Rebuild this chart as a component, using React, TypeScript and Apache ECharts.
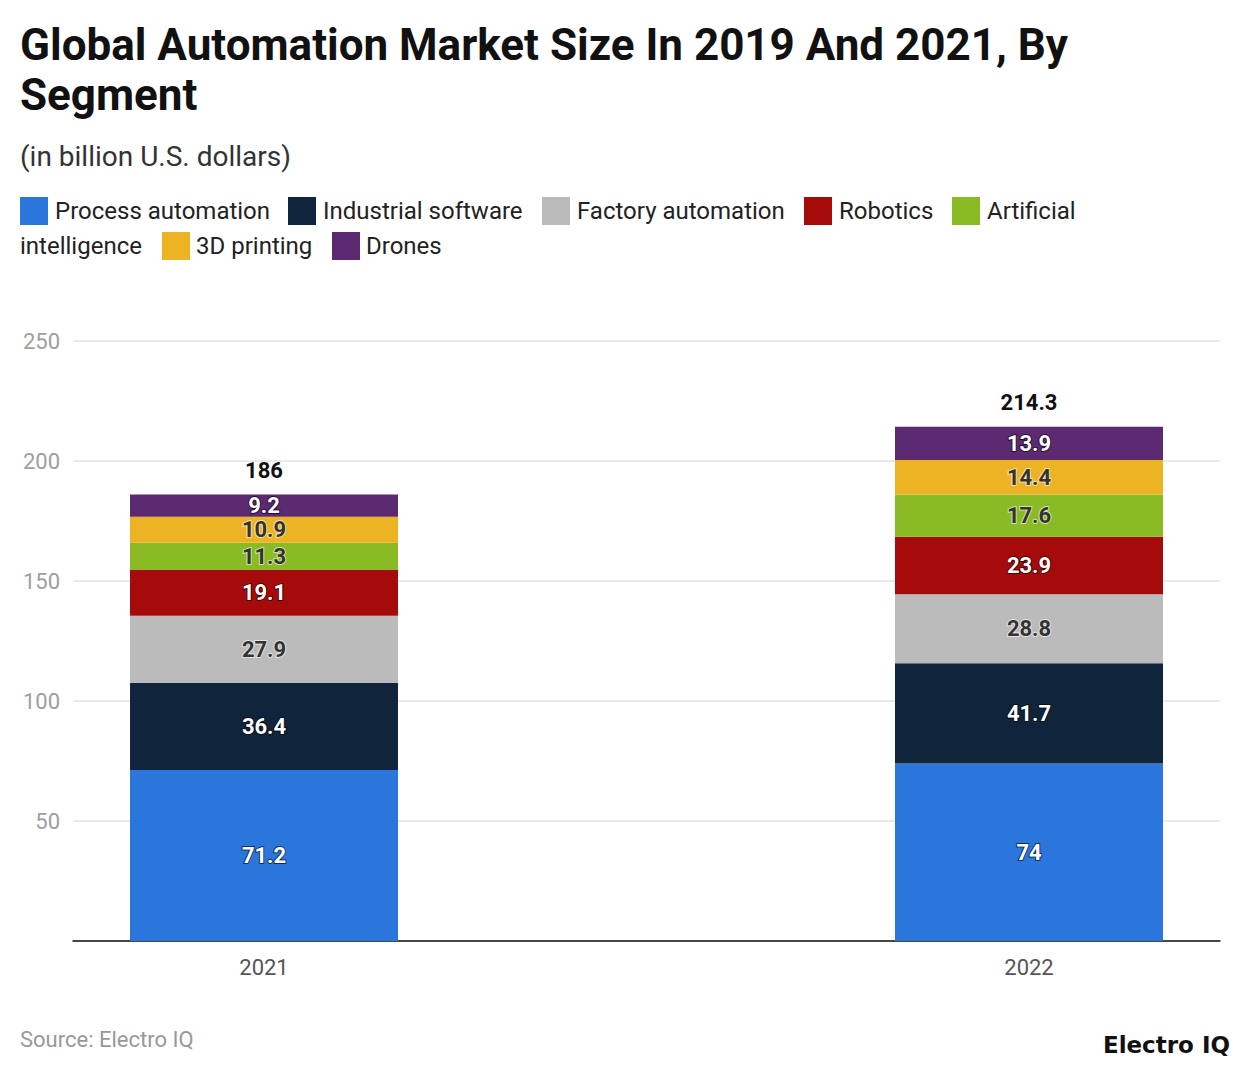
import { useEffect, useRef } from 'react';
import * as echarts from 'echarts';

const years = ['2021', '2022'];
const segments = [
  'Process automation',
  'Industrial software',
  'Factory automation',
  'Robotics',
  'Artificial intelligence',
  '3D printing',
  'Drones',
];
const colors = ['#2a76dd', '#10243b', '#bbbbbb', '#a50b0b', '#8abb24', '#ecb424', '#5b2a71'];
const processAutomation = [71.2, 74];
const industrialSoftware = [36.4, 41.7];
const factoryAutomation = [27.9, 28.8];
const robotics = [19.1, 23.9];
const artificialIntelligence = [11.3, 17.6];
const printing3d = [10.9, 14.4];
const drones = [9.2, 13.9];
const yTicks = [0, 50, 100, 150, 200, 250];

const seriesValues = [
  processAutomation,
  industrialSoftware,
  factoryAutomation,
  robotics,
  artificialIntelligence,
  printing3d,
  drones,
];
// light bars get dark text
const darkText = [false, false, true, false, true, true, false];

// legend layout (wraps like text flow in the original)
const legendItems = [
  { box: [20, 197], text: [55, 211], label: 'Process automation', idx: 0 },
  { box: [288, 197], text: [323, 211], label: 'Industrial software', idx: 1 },
  { box: [542, 197], text: [577, 211], label: 'Factory automation', idx: 2 },
  { box: [804, 197], text: [839, 211], label: 'Robotics', idx: 3 },
  { box: [952, 197], text: [987, 211], label: 'Artificial', idx: 4 },
  { box: null, text: [20, 246], label: 'intelligence', idx: 4 },
  { box: [162, 232], text: [196, 246], label: '3D printing', idx: 5 },
  { box: [332, 232], text: [366, 246], label: 'Drones', idx: 6 },
];

export default function App() {
  const chartRef = useRef(null);

  useEffect(() => {
    const chart = echarts.init(chartRef.current, null, { renderer: 'svg' });
    const totals = years.map((_, i) =>
      Math.round(seriesValues.reduce((s, arr) => s + arr[i], 0) * 10) / 10
    );
    const font = 'Roboto, sans-serif';

    const legendGraphics: any[] = [];
    legendItems.forEach((it) => {
      if (it.box) {
        legendGraphics.push({
          type: 'rect',
          shape: { x: it.box[0], y: it.box[1], width: 28, height: 28 },
          style: { fill: colors[it.idx] },
        });
      }
      legendGraphics.push({
        type: 'text',
        x: it.text[0],
        y: it.text[1],
        style: {
          text: it.label,
          fill: '#222',
          font: `24px ${font}`,
          textVerticalAlign: 'middle',
        },
      });
    });

    const barSeries = segments.map((name, i) => ({
      name,
      type: 'bar',
      stack: 'total',
      xAxisIndex: 1,
      yAxisIndex: 1,
      barWidth: 268,
      clip: false,
      itemStyle: { color: colors[i] },
      label: {
        show: true,
        position: 'inside',
        fontFamily: font,
        fontSize: 22,
        fontWeight: 'bold',
        color: darkText[i] ? '#333' : '#fff',
        textBorderColor: darkText[i] ? 'rgba(255,255,255,0.6)' : 'rgba(0,0,0,0.6)',
        textBorderWidth: 2,
      },
      data: seriesValues[i],
    }));

    const option = {
      animation: false,
      backgroundColor: '#fff',
      title: [
        {
          text: 'Global Automation Market Size In 2019 And 2021, By\nSegment',
          left: 20,
          top: 20,
          padding: 0,
          textStyle: {
            fontFamily: font,
            fontSize: 44,
            fontWeight: 'bold',
            color: '#111',
            lineHeight: 50,
          },
        },
        {
          text: '(in billion U.S. dollars)',
          left: 20,
          top: 142,
          padding: 0,
          textStyle: { fontFamily: font, fontSize: 28, fontWeight: 'normal', color: '#333' },
        },
      ],
      graphic: [
        ...legendGraphics,
        {
          type: 'text',
          left: 20,
          top: 1028,
          style: { text: 'Source: Electro IQ', fill: '#999', font: `22px ${font}` },
        },
        {
          type: 'text',
          right: 10,
          top: 1033,
          style: {
            text: 'Electro IQ',
            fill: '#111',
            font: `bold 23px "DejaVu Sans", ${font}`,
          },
        },
      ],
      grid: [
        { left: 73, right: 20, top: 341, bottom: 133 },
        { left: 264, right: 211, top: 341, bottom: 133 },
      ],
      xAxis: [
        {
          type: 'category',
          gridIndex: 0,
          data: years,
          axisLine: { lineStyle: { color: '#111', width: 1.5 } },
          axisTick: { show: false },
          axisLabel: { show: false },
        },
        {
          type: 'category',
          gridIndex: 1,
          data: years,
          boundaryGap: false,
          axisLine: { show: false },
          axisTick: { show: false },
          axisLabel: { fontFamily: font, fontSize: 22, color: '#555', margin: 15 },
        },
      ],
      yAxis: [
        {
          type: 'value',
          gridIndex: 0,
          min: yTicks[0],
          max: yTicks[yTicks.length - 1],
          interval: yTicks[1] - yTicks[0],
          axisLine: { show: false },
          axisTick: { show: false },
          axisLabel: {
            fontFamily: font,
            fontSize: 22,
            color: '#9e9e9e',
            margin: 13,
            formatter: (v: number) => (v === 0 ? '' : String(v)),
          },
          splitLine: { lineStyle: { color: '#e3e3e3', width: 1.5 } },
        },
        {
          type: 'value',
          gridIndex: 1,
          min: yTicks[0],
          max: yTicks[yTicks.length - 1],
          interval: yTicks[1] - yTicks[0],
          show: false,
        },
      ],
      series: [
        ...barSeries,
        {
          name: 'Total',
          type: 'bar',
          stack: 'total',
          xAxisIndex: 1,
          yAxisIndex: 1,
          barWidth: 268,
          clip: false,
          itemStyle: { color: 'transparent' },
          label: {
            show: true,
            position: 'top',
            distance: 13,
            fontFamily: font,
            fontSize: 22,
            fontWeight: 'bold',
            color: '#111',
            formatter: (p: any) => String(totals[p.dataIndex]),
          },
          data: years.map(() => 0),
        },
      ],
    };

    chart.setOption(option);
    return () => {
      chart.dispose();
    };
  }, []);

  return (
    <div
      ref={chartRef}
      style={{ position: 'absolute', left: 0, top: 0, width: '1240px', height: '1074px' }}
    />
  );
}
